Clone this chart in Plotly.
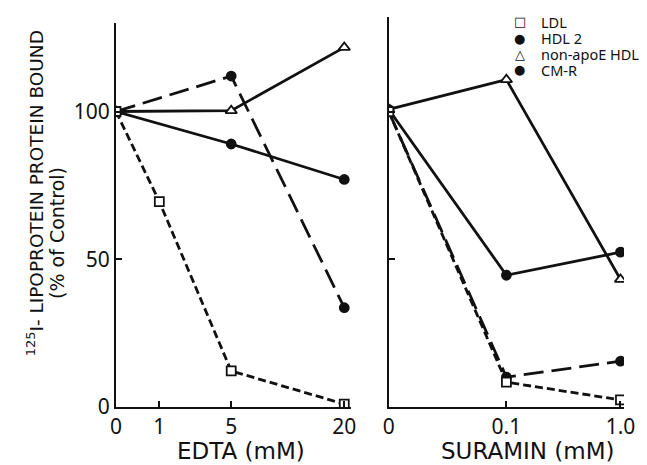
import plotly.graph_objects as go

# ---- data ----
edta_conc = [0, 1, 5, 20]                 # mM
edta_tick_labels = ["0", "1", "5", "20"]
edta_axis_pos = [0, 1, 2.66, 5.27]        # non-linear axis placement of each concentration

suramin_conc = [0, 0.1, 1.0]
suramin_tick_labels = ["0", "0.1", "1.0"]
suramin_axis_pos = [0, 1, 1.97]

# left panel (EDTA)
edta_ldl_x = [0, 1, 5, 20]
edta_ldl = [100, 69.5, 12.2, 1.0]
edta_hdl2_x = [0, 5, 20]
edta_hdl2 = [100, 89, 77]
edta_nonapoe_x = [0, 5, 20]
edta_nonapoe = [100, 100.3, 121.7]
edta_cmr_x = [0, 5, 20]
edta_cmr = [100, 112, 33.6]

# right panel (Suramin)
sur_x = [0, 0.1, 1.0]
sur_ldl = [100, 8.4, 2.4]
sur_hdl2 = [100.7, 44.6, 52.4]
sur_nonapoe = [100.7, 110.8, 43.2]
sur_cmr = [100, 10.1, 15.5]

y_ticks = [0, 50, 100]

def epos(vals):
    m = dict(zip(edta_conc, edta_axis_pos))
    return [m[v] for v in vals]

def spos(vals):
    m = dict(zip(suramin_conc, suramin_axis_pos))
    return [m[v] for v in vals]

FONT = "Noto Sans"
TFONT = "DejaVu Sans"
BLACK = "#111111"
LW = 2.8

styles = {
    "LDL": dict(dash="8px,4px", symbol="square", msize=9, fill="white"),
    "HDL2": dict(dash="solid", symbol="circle", msize=9, fill=BLACK),
    "nonapoE": dict(dash="solid", symbol="triangle-up", msize=10, fill="white"),
    "CMR": dict(dash="20px,8px", symbol="circle", msize=9, fill=BLACK),
}

fig = go.Figure()

def add(x, y, key, xa, ya):
    s = styles[key]
    fig.add_trace(go.Scatter(
        x=x, y=y, mode="lines+markers", xaxis=xa, yaxis=ya, showlegend=False,
        line=dict(color=BLACK, width=LW, dash=s["dash"]),
        marker=dict(symbol=s["symbol"], size=s["msize"], color=s["fill"],
                    line=dict(color=BLACK, width=1.8)),
    ))

add(epos(edta_nonapoe_x), edta_nonapoe, "nonapoE", "x", "y")
add(epos(edta_hdl2_x), edta_hdl2, "HDL2", "x", "y")
add(epos(edta_cmr_x), edta_cmr, "CMR", "x", "y")
add(epos(edta_ldl_x), edta_ldl, "LDL", "x", "y")

add(spos(sur_x), sur_nonapoe, "nonapoE", "x2", "y2")
add(spos(sur_x), sur_hdl2, "HDL2", "x2", "y2")
add(spos(sur_x), sur_cmr, "CMR", "x2", "y2")
add(spos(sur_x), sur_ldl, "LDL", "x2", "y2")

axis_common = dict(showgrid=False, zeroline=False, showline=True, linecolor=BLACK, linewidth=2.2,
                   ticks="inside", tickcolor=BLACK, tickwidth=1.6, ticklen=6,
                   tickfont=dict(family=FONT, size=21, color=BLACK))

fig.update_layout(
    width=647, height=465,
    margin=dict(l=116, r=15, t=17, b=58),
    paper_bgcolor="white", plot_bgcolor="white",
    xaxis=dict(axis_common, domain=[0, 0.463], range=[0, 5.43],
               tickvals=edta_axis_pos, ticktext=edta_tick_labels, anchor="y"),
    yaxis=dict(axis_common, domain=[0, 0.985], range=[0, 130],
               tickvals=y_ticks, ticktext=[str(v) for v in y_ticks], anchor="x",
               minor=dict(tickvals=[130], ticks="inside", ticklen=6, tickcolor=BLACK, tickwidth=1.6)),
    xaxis2=dict(axis_common, domain=[0.537, 1], range=[0, 2.0],
                tickvals=suramin_axis_pos, ticktext=suramin_tick_labels, anchor="y2"),
    yaxis2=dict(axis_common, domain=[0, 1], range=[0, 132], tickvals=y_ticks,
                showticklabels=False, anchor="x2"),
    font=dict(family=FONT, color=BLACK),
)

def px(x):
    return (x - 116) / 516

def py(y):
    return (407 - y) / 390

for text, x, y in [("EDTA (mM)", 243, 451), ("SURAMIN (mM)", 534, 451)]:
    fig.add_annotation(text=text, xref="paper", yref="paper", x=px(x), y=py(y),
                       showarrow=False, font=dict(family=TFONT, size=23, color=BLACK),
                       xanchor="center", yanchor="middle")

fig.add_annotation(text="<sup>125</sup>I- LIPOPROTEIN PROTEIN BOUND", textangle=-90,
                   xref="paper", yref="paper", x=px(34), y=py(193),
                   showarrow=False, font=dict(family=TFONT, size=18.5, color=BLACK),
                   xanchor="center", yanchor="middle")
fig.add_annotation(text="(% of Control)", textangle=-90,
                   xref="paper", yref="paper", x=px(56), y=py(233),
                   showarrow=False, font=dict(family=TFONT, size=19, color=BLACK),
                   xanchor="center", yanchor="middle")

legend_items = [("□", "LDL"), ("●", "HDL 2"), ("△", "non-apoE HDL"), ("●", "CM-R")]
for i, (g, t) in enumerate(legend_items):
    yy = 22 + i * 16
    fig.add_annotation(text="<b>" + g + "</b>", xref="paper", yref="paper", x=px(526), y=py(yy),
                       showarrow=False, font=dict(family="DejaVu Sans", size=13, color=BLACK),
                       xanchor="center", yanchor="middle")
    fig.add_annotation(text=t, xref="paper", yref="paper", x=px(546), y=py(yy),
                       showarrow=False, font=dict(family=FONT, size=14.5, color=BLACK),
                       xanchor="left", yanchor="middle")

fig.write_html("out.html", config={"displayModeBar": False},
               post_script="document.body.style.margin='0';")
